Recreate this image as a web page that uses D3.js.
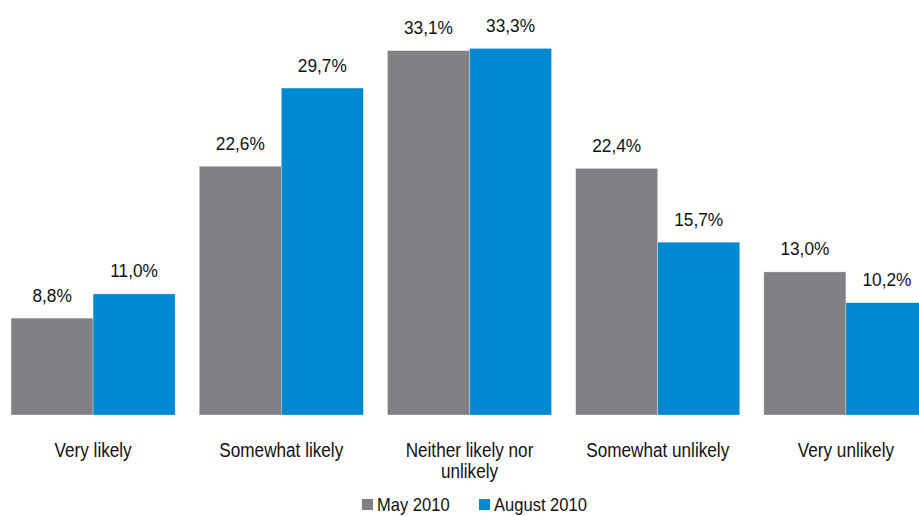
<!DOCTYPE html>
<html>
<head>
<meta charset="utf-8">
<script src="https://cdn.jsdelivr.net/npm/d3@7"></script>
<style>
  html, body { margin: 0; padding: 0; background: #fff; }
  svg { display: block; font-family: "Liberation Sans", Arial, sans-serif; }
</style>
</head>
<body>
<svg id="chart" width="919" height="516"></svg>
<script>
// ---- Data ----
const categories = ['Very likely', 'Somewhat likely', 'Neither likely nor unlikely', 'Somewhat unlikely', 'Very unlikely'];
const seriesNames = ['May 2010', 'August 2010'];
const may2010 = [8.8, 22.6, 33.1, 22.4, 13.0];
const aug2010 = [11.0, 29.7, 33.3, 15.7, 10.2];
const colors = ['#828085', '#0088d1'];

const series = [may2010, aug2010];
const fmt = v => v.toFixed(1).replace('.', ',') + '%';

const svg = d3.select('#chart');
const baseY = 415;

// ---- Scales ----
const x0 = d3.scaleBand()
  .domain(categories)
  .range([-1, 940])
  .paddingInner(0.128)
  .paddingOuter(0.064);

const x1 = d3.scaleBand()
  .domain(seriesNames)
  .range([0, x0.bandwidth()]);

const y = d3.scaleLinear()
  .domain([0, 37.7])
  .range([baseY, 0]);

// text in the original is slightly condensed
const squeeze = (x, yy, s) => `translate(${x},${yy}) scale(${s},1)`;

// ---- Bars ----
const groups = svg.append('g').selectAll('g')
  .data(categories)
  .join('g')
  .attr('transform', d => `translate(${x0(d)},0)`);

const cells = (d, i) => seriesNames.map((s, j) => ({ s, j, v: series[j][i] }));

groups.selectAll('rect')
  .data(cells)
  .join('rect')
  .attr('x', d => x1(d.s))
  .attr('y', d => y(d.v))
  .attr('width', x1.bandwidth())
  .attr('height', d => baseY - y(d.v))
  .attr('fill', d => colors[d.j])
  .attr('stroke', '#ffffff')
  .attr('stroke-opacity', 0.5)
  .attr('stroke-width', 0.6);

// value labels
groups.selectAll('text.val')
  .data(cells)
  .join('text')
  .attr('class', 'val')
  .attr('transform', d => squeeze(x1(d.s) + x1.bandwidth() / 2, y(d.v) - 16.5, 0.91))
  .attr('text-anchor', 'middle')
  .attr('font-size', '19px')
  .attr('fill', '#111')
  .text(d => fmt(d.v));

// ---- Category labels (wrapped) ----
const catLines = {
  'Neither likely nor unlikely': ['Neither likely nor', 'unlikely']
};

svg.append('g').selectAll('text')
  .data(categories)
  .join('text')
  .attr('transform', d => squeeze(x0(d) + x0.bandwidth() / 2, 457, 0.88))
  .attr('text-anchor', 'middle')
  .attr('font-size', '19.5px')
  .attr('fill', '#111')
  .each(function (d) {
    const lines = catLines[d] || [d];
    d3.select(this).selectAll('tspan')
      .data(lines)
      .join('tspan')
      .attr('x', 0)
      .attr('dy', (l, i) => i === 0 ? 0 : 21.5)
      .text(l => l);
  });

// ---- Legend ----
const legendX = [362, 479];
const legend = svg.append('g').selectAll('g')
  .data(seriesNames)
  .join('g')
  .attr('transform', (d, i) => `translate(${legendX[i]},499)`);

legend.append('rect')
  .attr('width', 11).attr('height', 11)
  .attr('fill', (d, i) => colors[i]);

legend.append('text')
  .attr('transform', squeeze(15, 11.5, 0.92))
  .attr('font-size', '18px')
  .attr('fill', '#111')
  .text(d => d);
</script>
</body>
</html>
